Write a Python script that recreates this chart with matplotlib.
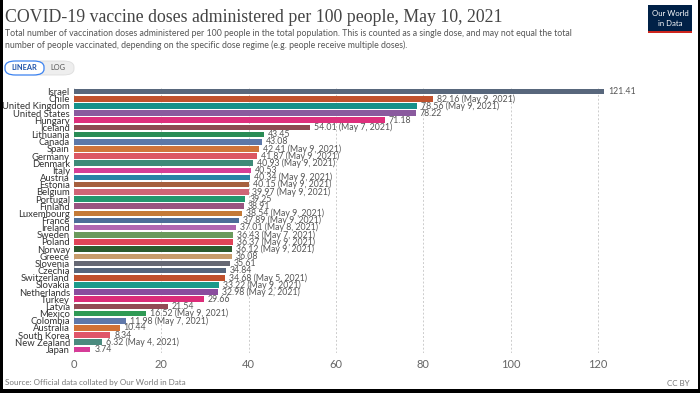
import matplotlib
matplotlib.use("Agg")
import matplotlib.pyplot as plt
from matplotlib.patches import Rectangle, FancyBboxPatch

# data
countries = ["Israel", "Chile", "United Kingdom", "United States", "Hungary", "Iceland",
             "Lithuania", "Canada", "Spain", "Germany", "Denmark", "Italy", "Austria",
             "Estonia", "Belgium", "Portugal", "Finland", "Luxembourg", "France", "Ireland",
             "Sweden", "Poland", "Norway", "Greece", "Slovenia", "Czechia", "Switzerland",
             "Slovakia", "Netherlands", "Turkey", "Latvia", "Mexico", "Colombia", "Australia",
             "South Korea", "New Zealand", "Japan"]
doses = [121.41, 82.16, 78.56, 78.22, 71.18, 54.01, 43.45, 43.08, 42.41, 41.87, 40.93,
         40.53, 40.34, 40.15, 39.97, 39.25, 38.91, 38.54, 37.89, 37.01, 36.43, 36.37,
         36.12, 36.08, 35.61, 34.84, 34.68, 33.22, 32.98, 29.66, 21.54, 16.52, 11.98,
         10.44, 8.34, 6.32, 3.74]
dates = ["", "May 9, 2021", "May 9, 2021", "", "", "May 7, 2021", "", "", "May 9, 2021",
         "May 9, 2021", "May 9, 2021", "", "May 9, 2021", "May 9, 2021", "May 9, 2021",
         "", "", "May 9, 2021", "May 9, 2021", "May 8, 2021", "May 7, 2021", "May 9, 2021",
         "May 9, 2021", "", "", "", "May 5, 2021", "May 9, 2021", "May 2, 2021", "", "",
         "May 9, 2021", "May 7, 2021", "", "", "May 4, 2021", ""]
colors = ["#58677c", "#c0522e", "#17918a", "#8a5a9e", "#de2f7c", "#8e4a52",
          "#2a8c55", "#5d78a8", "#d0743a", "#dc5662", "#3e8a78", "#d63e96", "#2a82a6",
          "#a6603e", "#cf6577", "#23966e", "#985480", "#c47a37", "#4c6d98", "#b066b0",
          "#6a9a5c", "#e04458", "#2c5a2e", "#c89c6c", "#666874", "#56657c", "#c0502c",
          "#1c9a8a", "#8a4c9e", "#dc2c78", "#934a54", "#2f9a55", "#5f78aa", "#d27236",
          "#e0566a", "#4a8a7e", "#d63c98"]
xticks = [0, 20, 40, 60, 80, 100, 120]

W, H = 700, 393
fig = plt.figure(figsize=(7, 3.93), dpi=100)
fig.patch.set_facecolor("white")

def fx(px):
    return px / W

def fy(py):
    return 1 - py / H

# title block
fig.text(fx(5), fy(17), "COVID-19 vaccine doses administered per 100 people, May 10, 2021",
         family="Liberation Serif", fontsize=12.8, color="#444444", va="center")
fig.text(fx(5), fy(34), "Total number of vaccination doses administered per 100 people in the total "
         "population. This is counted as a single dose, and may not equal the total",
         family="Lato", fontsize=6.3, color="#555555", va="center")
fig.text(fx(5), fy(45), "number of people vaccinated, depending on the specific dose regime "
         "(e.g. people receive multiple doses).",
         family="Lato", fontsize=6.3, color="#555555", va="center")

# logo
fig.patches.append(Rectangle((fx(648), fy(33)), fx(44), 28 / H, transform=fig.transFigure,
                             facecolor="#002147", edgecolor="none"))
fig.patches.append(Rectangle((fx(648), fy(33)), fx(44), 2 / H, transform=fig.transFigure,
                             facecolor="#ce261e", edgecolor="none"))
fig.text(fx(670), fy(14), "Our World", family="Lato", fontsize=5.6, color="white",
         ha="center", va="center")
fig.text(fx(670), fy(23), "in Data", family="Lato", fontsize=5.6, color="white",
         ha="center", va="center")

# linear / log buttons
fig.patches.append(FancyBboxPatch((fx(26), fy(75)), fx(48), 14 / H, transform=fig.transFigure,
                                  boxstyle="round,pad=0,rounding_size=0.015",
                                  facecolor="#eeeeee", edgecolor="#dddddd", lw=0.6))
fig.patches.append(FancyBboxPatch((fx(5), fy(75)), fx(39), 14 / H, transform=fig.transFigure,
                                  boxstyle="round,pad=0,rounding_size=0.015",
                                  facecolor="white", edgecolor="#3b82f0", lw=0.9))
fig.text(fx(24.5), fy(68), "LINEAR", family="Lato", fontsize=5.3, color="#2255aa",
         ha="center", va="center", weight="bold")
fig.text(fx(58), fy(68), "LOG", family="Lato", fontsize=5.3, color="#555555",
         ha="center", va="center")

# bars
ax = fig.add_axes([fx(74), fy(353), fx(559), 265 / H])
y = list(range(len(countries)))
ax.barh(y, doses, height=0.78, color=colors, zorder=3)
ax.set_ylim(len(countries) - 0.5, -0.5)
ax.set_xlim(0, 128)
ax.set_xticks(xticks)
ax.set_xticklabels([str(t) for t in xticks], family="Lato", fontsize=8, color="#666666")
ax.tick_params(axis="x", length=0, pad=4)
ax.set_yticks(y)
ax.set_yticklabels(countries, family="Lato", fontsize=6.8, color="#333333")
ax.tick_params(axis="y", length=0, pad=3)
for s in ax.spines.values():
    s.set_visible(False)
ax.grid(axis="x", color="#cccccc", linestyle=(0, (2, 2)), lw=0.7, zorder=0)
ax.grid(axis="y", visible=False)

for i, (v, d) in enumerate(zip(doses, dates)):
    lab = "%.2f" % v
    if d:
        lab += " (" + d + ")"
    ax.text(v + 0.9, i, lab, family="Lato", fontsize=6.3, color="#555555",
            va="center", ha="left", clip_on=False, zorder=4)

# footer
fig.text(fx(5), fy(383), "Source: Official data collated by Our World in Data",
         family="Lato", fontsize=5.8, color="#777777", va="center")
fig.text(fx(690), fy(383), "CC BY", family="Lato", fontsize=5.8, color="#777777",
         va="center", ha="right")

# black screenshot frame
for (x0, y0, w, h) in [(0, 0, 3, H), (W - 2, 0, 2, H), (0, H - 4, W, 4)]:
    fig.patches.append(Rectangle((fx(x0), fy(y0 + h)), fx(w), h / H,
                                 transform=fig.transFigure, facecolor="black",
                                 edgecolor="none", zorder=10))

fig.savefig("out.png", dpi=100)
